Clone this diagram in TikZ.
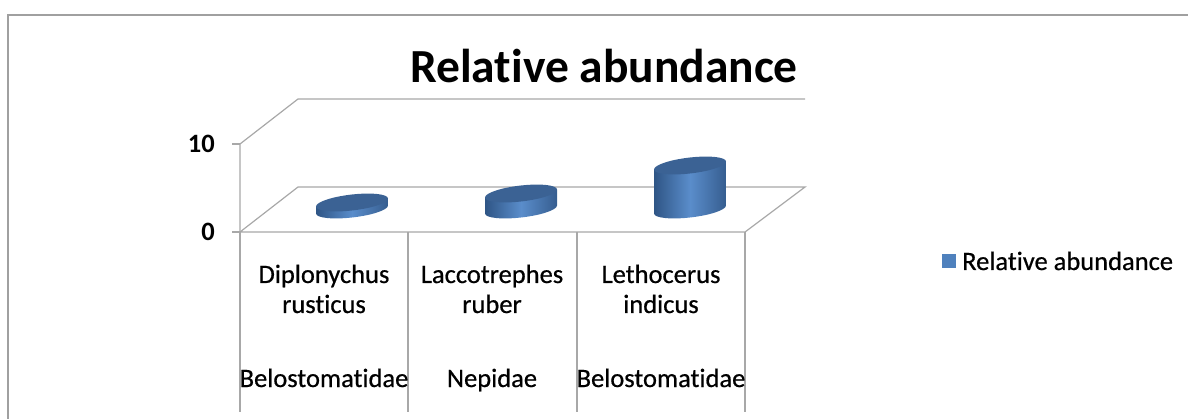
\documentclass[tikz,border=0pt]{standalone}
\usepackage{fontspec}
\setmainfont{Carlito}[Ligatures=NoCommon]
\newfontfamily\lblfont{Carlito}[FakeBold=0.6,Ligatures=NoCommon]
\usetikzlibrary{positioning}

\definecolor{framegray}{HTML}{A0A0A0}
\definecolor{gridgray}{HTML}{A8A8A8}
\definecolor{bardark}{HTML}{2F5585}
\definecolor{barlight}{HTML}{5A8DCB}
\definecolor{bartop}{HTML}{3B6294}
\definecolor{legendblue}{HTML}{4F81BD}

% one cylinder: centre x, base y, height (all in px)
\newcommand{\cylbar}[3]{%
  \begin{scope}[shift={(#1,#2)},yslant=0.11]
    \path[left color=bardark,right color=bardark!85!barlight,middle color=barlight]
      (-36,0) arc[start angle=180,end angle=0,x radius=36,y radius=8]
      -- (36,-#3) -- (-36,-#3) -- cycle;
    \fill[bartop] (0,-#3) ellipse[x radius=36,y radius=8];
  \end{scope}}

\begin{document}
\begin{tikzpicture}[x=1pt,y=-1pt]
\tikzstyle{grid} = [gridgray, line width=1.2pt]
\tikzstyle{lbl} = [inner sep=0pt, anchor=base, font=\lblfont\fontsize{26.5}{30}\selectfont]
\tikzstyle{tick} = [inner sep=0pt, anchor=east, font=\fontsize{26.5}{30}\selectfont\bfseries]

    \useasboundingbox (0,0) rectangle (1188,419);
    \draw[framegray, line width=2pt] (8,419) -- (8,15) -- (1188,15);

    % title
    \node[inner sep=0pt, anchor=base, font=\fontsize{47.5}{50}\selectfont\bfseries]
      (title) at (604,83) {Relative abundance};

    % walls and floor
    \draw[grid] (240,232) -- (240,144) -- (298,99) -- (805,99);
    \draw[grid] (240,232) -- (298,187) -- (805,187) -- (745,232) -- cycle;
    \draw[grid] (232,144) -- (240,144);
    \draw[grid] (232,232) -- (240,232);
    \node[tick] (ten) at (215,144) {10};
    \node[tick] (zero) at (215,232) {0};

    % category dividers
    \foreach \x in {240,408,577,745}
      \draw[grid] (\x,232) -- (\x,412);

    % bars
    \cylbar{352}{209.5}{7}
    \cylbar{521}{209.5}{16}
    \cylbar{690}{209.5}{44}

    % category labels
    \foreach \cx/\la/\lb/\fam [count=\i] in
      {324/Diplonychus/rusticus/Belostomatidae,
       492/Laccotrephes/ruber/Nepidae,
       661/Lethocerus/indicus/Belostomatidae}{
      \node[lbl] (spa\i) at (\cx,283) {\la};
      \node[lbl] (spb\i) at (\cx,313) {\lb};
      \node[lbl] (fam\i) at (\cx,387) {\fam};
    }

    % legend
    \fill[legendblue] (942,254) rectangle (956,268);
    \node[lbl, anchor=base west] (legend) at (962,270) {Relative abundance};
\end{tikzpicture}
\end{document}
